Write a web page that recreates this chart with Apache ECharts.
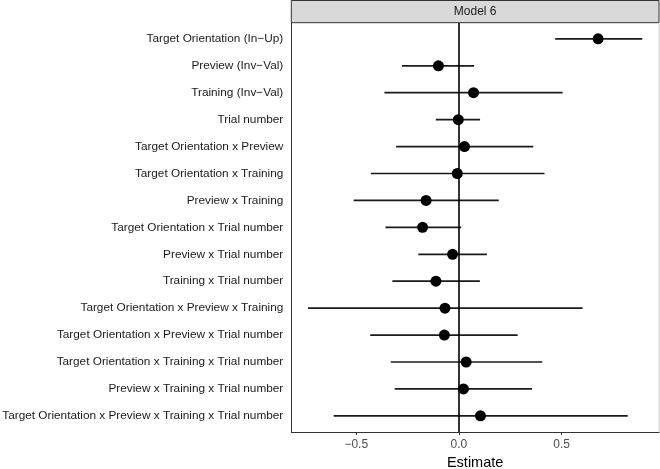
<!DOCTYPE html>
<html><head><meta charset="utf-8">
<script src="https://cdn.jsdelivr.net/npm/echarts@6/dist/echarts.min.js"></script>
<style>html,body{margin:0;padding:0;background:#fff}#c{width:660px;height:469px}</style>
</head><body><div id="c"></div>
<script>
var terms = [
  "Target Orientation (In\u2212Up)",
  "Preview (Inv\u2212Val)",
  "Training (Inv\u2212Val)",
  "Trial number",
  "Target Orientation x Preview",
  "Target Orientation x Training",
  "Preview x Training",
  "Target Orientation x Trial number",
  "Preview x Trial number",
  "Training x Trial number",
  "Target Orientation x Preview x Training",
  "Target Orientation x Preview x Trial number",
  "Target Orientation x Training x Trial number",
  "Preview x Training x Trial number",
  "Target Orientation x Preview x Training x Trial number"
];
var estimates = [0.678, -0.100, 0.071, -0.003, 0.027, -0.008, -0.160, -0.177, -0.031, -0.112, -0.068, -0.071, 0.035, 0.022, 0.105];
var lower = [0.469, -0.277, -0.363, -0.113, -0.306, -0.429, -0.513, -0.358, -0.198, -0.324, -0.735, -0.432, -0.332, -0.313, -0.610];
var upper = [0.893, 0.074, 0.505, 0.103, 0.362, 0.417, 0.194, 0.011, 0.136, 0.102, 0.602, 0.286, 0.406, 0.356, 0.822];
var xTicks = [-0.5, 0, 0.5];
var panelTitle = "Model 6";

var rows = terms.map(function(t, i){ return i + 1; });
var pts = estimates.map(function(v, i){ return [v, rows[i]]; });
var bars = lower.map(function(l, i){ return [l, upper[i], rows[i]]; });

var chart = echarts.init(document.getElementById('c'), null, {renderer: 'canvas'});
var gl = 291.3, gr = 659, gt = 22.7, gb = 432;
chart.setOption({
  animation: false,
  grid: {left: gl, right: 660 - gr, top: gt, bottom: 469 - gb, containLabel: false, outerBoundsMode: 'none'},
  xAxis: {
    type: 'value', min: -0.8165, max: 0.9745,
    splitLine: {show: false},
    axisLine: {show: true, onZero: false, lineStyle: {color: '#333', width: 1}},
    axisTick: {show: true, length: 3, customValues: xTicks, lineStyle: {color: '#333'}},
    axisLabel: {customValues: xTicks, margin: 7, color: '#4d4d4d', fontSize: 12, fontFamily: 'Liberation Sans',
      formatter: function(v){ return (v < 0 ? '\u2212' : '') + Math.abs(v).toFixed(1); }},
    name: 'Estimate', nameLocation: 'middle', nameGap: 19,
    nameTextStyle: {color: '#000', fontSize: 14.5, fontFamily: 'Liberation Sans'}
  },
  yAxis: {
    type: 'value', min: 0.4, max: 15.6, inverse: true,
    splitLine: {show: false},
    axisLine: {show: true, onZero: false, lineStyle: {color: '#333', width: 1}},
    axisTick: {show: false},
    axisLabel: {customValues: rows, margin: 8, color: '#1a1a1a', fontSize: 11.8, fontFamily: 'Liberation Sans',
      formatter: function(v){ return terms[Math.round(v) - 1] || ''; }}
  },
  graphic: [
    {type: 'rect', shape: {x: gl, y: 0.5, width: gr - gl, height: gt - 0.5}, style: {fill: '#d9d9d9', stroke: '#333', lineWidth: 1}, z: 10},
    {type: 'text', x: (gl + gr) / 2, y: gt / 2 + 0.5, style: {text: panelTitle, fill: '#1a1a1a', font: '12px "Liberation Sans"', align: 'center', verticalAlign: 'middle'}, z: 11},
    {type: 'line', shape: {x1: gr, y1: gt, x2: gr, y2: gb}, style: {stroke: '#d0d0d0', lineWidth: 1}, z: 10}
  ],
  series: [
    {
      type: 'custom', data: bars, z: 3,
      renderItem: function(params, api){
        var a = api.coord([api.value(0), api.value(2)]);
        var b = api.coord([api.value(1), api.value(2)]);
        return {type: 'line', shape: {x1: a[0], y1: a[1], x2: b[0], y2: b[1]}, style: {stroke: '#1a1a1a', lineWidth: 1.7}};
      },
      encode: {x: [0, 1], y: 2}
    },
    {
      type: 'scatter', data: pts, symbol: 'circle', symbolSize: 11, z: 4,
      itemStyle: {color: '#000', opacity: 1},
      markLine: {silent: true, symbol: 'none', label: {show: false},
        lineStyle: {color: '#000', width: 1.6, type: 'solid'}, data: [{xAxis: 0}]}
    }
  ]
});
</script></body></html>
